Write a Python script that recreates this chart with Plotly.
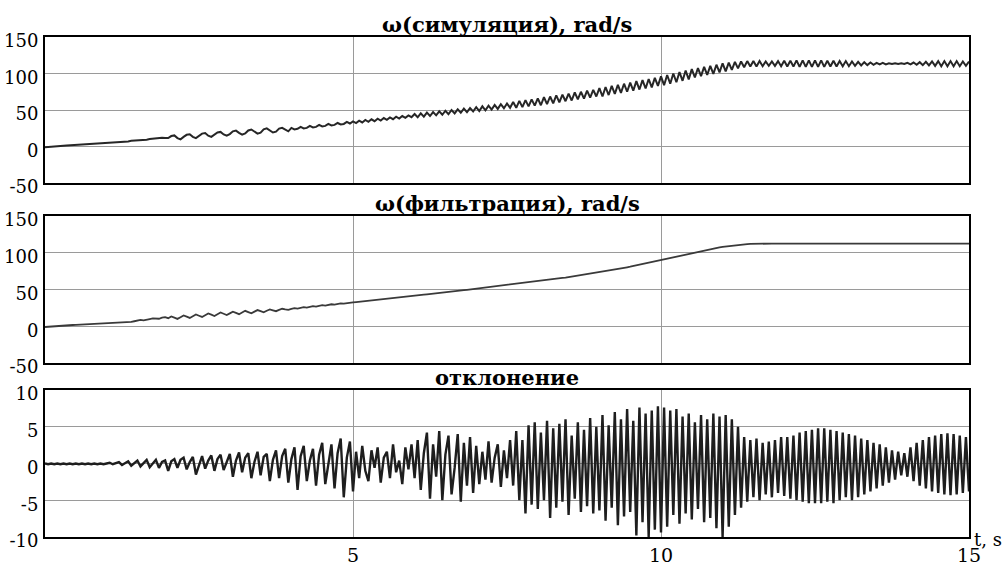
import plotly.graph_objects as go
from plotly.subplots import make_subplots

# ---------------- data ----------------
T_STEP = 0.05  # s between samples, starting at t = 0

OMEGA_SIM = [
    -1.0,-0.5,0.0,0.3,0.6,0.8,1.0,1.2,1.5,1.7,2.0,2.2,2.4,2.6,2.8,3.0,3.2,3.4,3.6,3.8,
    4.0,4.6,5.0,5.2,5.8,6.4,6.6,7.0,7.8,8.0,8.2,9.0,9.4,9.4,10.2,10.8,10.6,11.2,12.0,11.6,
    11.5,14.3,15.2,11.5,9.8,13.2,16.0,16.8,13.2,11.5,14.8,17.7,18.5,14.8,13.2,16.5,19.3,20.0,16.5,14.8,
    17.0,20.8,21.8,18.6,16.2,17.8,22.0,23.3,20.1,17.6,19.0,23.5,24.8,21.6,19.2,20.4,24.5,25.6,22.8,20.8,
    25.5,23.4,24.2,26.8,24.8,25.5,28.2,26.1,26.9,29.5,27.5,28.2,30.9,28.8,29.6,32.2,30.2,30.9,33.6,31.5,
    34.5,32.0,35.4,32.9,36.3,33.8,37.2,34.7,38.1,35.6,39.0,36.5,39.9,37.4,40.8,38.3,41.7,39.2,42.6,40.1,
    44.5,40.0,45.4,40.8,46.4,41.8,47.2,42.7,48.2,43.5,49.0,44.4,50.0,45.3,50.9,46.2,51.8,47.1,52.7,48.0,
    54.0,48.5,55.0,49.5,56.0,50.5,57.0,51.5,58.0,52.5,59.0,53.0,61.0,53.0,62.5,54.0,63.5,55.0,64.5,56.0,
    66.0,56.5,67.5,58.0,68.5,59.0,70.0,60.5,71.0,62.0,72.5,63.0,74.0,64.5,75.0,65.5,76.5,67.0,77.5,68.5,
    80.0,68.5,81.5,70.5,83.0,72.0,84.5,73.5,86.0,75.0,87.5,76.5,89.5,78.0,91.0,79.5,92.5,81.0,94.0,83.0,
    96.0,84.0,98.0,86.0,100.0,88.0,102.0,90.0,104.0,92.0,106.0,94.5,107.5,96.5,109.0,98.0,110.5,99.5,112.0,101.5,
    114.0,103.0,115.0,105.0,116.0,107.0,116.5,108.5,117.0,109.5,117.0,109.5,117.0,110.0,116.5,110.5,116.5,110.5,117.0,110.0,
    117.5,109.5,117.5,109.5,118.0,109.0,118.0,109.0,118.0,109.0,118.0,109.0,118.0,109.0,117.5,109.5,117.5,109.5,117.0,110.0,
    117.0,110.0,116.5,110.5,116.0,111.0,115.5,111.5,115.0,112.0,114.5,112.5,114.5,112.5,114.0,113.0,114.0,113.0,114.0,113.0,
    114.5,112.5,115.0,112.0,115.5,111.5,116.0,111.0,116.5,110.5,117.0,110.0,117.0,110.0,117.0,110.0,117.0,110.0,116.5,110.5,
    116.5,
]

OMEGA_FILT = [
    -1.0,-0.6,-0.2,0.2,0.5,0.8,1.0,1.2,1.5,1.7,2.0,2.2,2.4,2.6,2.8,3.0,3.1,3.2,3.3,3.4,
    3.5,3.7,4.0,4.3,4.6,5.0,5.4,5.7,6.0,6.8,8.2,8.6,8.0,8.4,9.8,10.6,10.0,10.2,11.6,12.4,
    11.0,13.3,11.7,10.0,12.3,14.6,13.0,11.3,13.6,16.0,14.3,12.7,15.0,17.3,15.7,14.0,16.4,18.7,17.0,15.3,
    17.5,19.8,18.1,16.4,18.7,21.0,19.3,17.6,19.9,22.0,20.5,19.0,21.1,23.0,21.7,20.5,22.3,23.8,22.9,22.2,
    23.5,24.6,24.0,24.9,25.9,25.4,26.2,27.3,26.6,27.6,28.6,28.0,28.9,29.9,29.4,30.3,31.2,30.8,31.6,32.4,
    32.5,32.9,33.3,33.8,34.2,34.6,35.0,35.5,35.9,36.3,36.8,37.2,37.7,38.1,38.6,39.1,39.6,40.0,40.5,41.0,
    41.5,42.0,42.4,42.9,43.4,43.8,44.3,44.8,45.3,45.8,46.3,46.7,47.2,47.7,48.2,48.7,49.1,49.6,50.1,50.6,
    51.0,51.5,52.0,52.5,53.0,53.5,54.0,54.5,55.0,55.5,56.0,56.5,57.0,57.5,58.0,58.5,59.0,59.5,60.0,60.5,
    61.0,61.5,62.1,62.7,63.3,63.9,64.5,65.1,65.7,66.3,67.0,67.6,68.2,68.8,69.4,70.0,70.6,71.2,71.8,72.4,
    73.0,73.7,74.5,75.2,76.0,76.8,77.6,78.4,79.3,80.2,81.0,81.9,82.8,83.7,84.6,85.5,86.4,87.3,88.2,89.1,
    90.0,91.0,92.0,93.0,94.0,95.0,96.0,97.0,98.0,99.0,100.0,100.9,101.8,102.7,103.6,104.4,105.2,106.0,106.7,107.3,
    107.9,108.5,109.1,109.6,110.1,110.6,111.0,111.4,111.7,112.0,112.2,112.3,112.4,112.5,112.5,112.5,112.5,112.5,112.5,112.5,
    112.5,112.5,112.5,112.5,112.5,112.5,112.5,112.5,112.8,112.2,112.8,112.2,112.8,112.2,112.8,112.2,112.5,112.5,112.5,112.5,
    112.5,112.5,112.5,112.5,112.5,112.5,112.5,112.5,112.5,112.5,112.5,112.5,112.5,112.5,112.5,112.5,112.5,112.5,112.5,112.5,
    112.5,112.5,112.5,112.5,112.5,112.5,112.5,112.5,112.5,112.5,112.5,112.5,112.5,112.5,112.5,112.5,112.5,112.5,112.5,112.5,
    112.5,
]

DEVIATION = [
    0.0,-0.1,0.0,-0.1,0.0,-0.1,0.0,-0.1,0.0,-0.1,0.0,-0.1,0.0,-0.1,0.0,-0.1,0.0,-0.1,0.0,-0.1,
    0.0,0.1,-0.1,0.0,0.2,-0.2,0.1,0.3,-0.3,0.0,0.4,-0.4,0.1,0.5,-0.5,0.0,0.5,-0.6,0.2,0.4,
    -1.0,0.3,0.6,-0.6,0.5,0.8,-0.8,0.2,0.9,-1.5,-0.3,1.0,-0.7,0.4,1.1,-1.0,0.6,1.2,-0.9,0.2,
    1.3,-1.8,0.4,1.5,-1.2,0.8,1.4,-2.0,0.2,1.6,-1.6,0.9,1.3,-2.4,0.5,1.8,-2.0,1.0,2.0,-2.6,
    0.6,2.2,-3.6,1.0,2.4,-2.4,0.4,2.0,-3.0,1.2,2.8,-2.8,0.2,2.6,-3.4,1.4,3.4,-4.6,0.8,3.0,
    -3.8,1.6,-2.0,2.4,-1.0,-2.4,1.8,-0.6,2.2,-2.6,0.8,1.6,-2.0,2.6,-1.2,0.4,-2.8,2.2,-0.8,2.6,
    -2.0,3.2,-3.6,1.4,4.2,-4.8,2.6,-1.8,4.4,-5.0,1.2,3.8,-4.2,-0.6,4.0,-5.2,2.8,-3.0,3.6,-4.0,
    2.4,-2.8,1.6,-2.2,3.0,-2.6,0.8,2.6,-3.2,1.8,-2.0,3.2,-3.0,4.4,-5.0,3.2,-6.8,5.2,-5.6,5.6,
    -6.2,4.2,-5.0,5.8,-7.4,4.8,-6.0,5.4,-5.2,6.0,-7.0,3.8,-4.8,5.6,-6.6,4.6,-5.8,6.2,-6.8,5.0,
    -6.4,6.6,-7.8,5.2,-6.0,7.0,-8.4,6.0,-7.2,7.4,-6.6,5.8,-9.8,7.6,-8.0,6.8,-10.0,7.2,-9.0,7.8,
    -9.4,7.6,-8.6,7.2,-7.0,7.4,-8.2,6.4,-6.8,6.8,-7.6,5.6,-6.2,6.6,-8.0,6.0,-7.4,6.8,-8.8,6.4,
    -10.0,6.6,-8.6,6.0,-7.0,5.0,-6.0,3.6,-5.2,3.2,-4.6,3.4,-5.0,2.8,-4.2,3.0,-4.6,3.2,-4.0,3.6,
    -4.4,3.6,-4.8,3.8,-5.0,4.2,-5.2,4.4,-5.4,4.6,-5.4,4.8,-5.4,4.8,-5.2,4.6,-5.4,4.4,-5.0,4.2,
    -4.6,4.0,-5.0,3.8,-4.6,3.4,-4.2,3.2,-3.8,2.8,-3.4,2.6,-3.0,2.2,-2.6,1.8,-2.2,1.6,-1.6,1.4,
    -1.8,2.2,-2.4,2.8,-3.0,3.2,-3.4,3.6,-3.8,3.8,-4.0,4.0,-4.2,4.1,-4.3,4.0,-4.2,3.8,-4.0,3.6,
    -3.8,
]

TITLES = ["ω(симуляция), rad/s", "ω(фильтрация), rad/s", "отклонение"]
OMEGA_TICKS = [-50, 0, 50, 100, 150]
OMEGA_TICK_TEXT = ["-50", "0", "50", "100", "150"]
DEV_TICKS = [-10, -5, 0, 5, 10]
DEV_TICK_TEXT = ["-10", "-5", "0", "5", "10"]
TIME_TICKS = [5, 10, 15]
TIME_TICK_TEXT = ["5", "10", "15"]
X_LABEL = "t, s"

assert len(OMEGA_SIM) == 301, len(OMEGA_SIM)
assert len(OMEGA_FILT) == 301, len(OMEGA_FILT)
assert len(DEVIATION) == 301, len(DEVIATION)


def times(vals):
    return [round(i * T_STEP, 2) for i in range(len(vals))]


# ---------------- figure ----------------
FONT = "DejaVu Serif"
fig = make_subplots(rows=3, cols=1)

fig.add_trace(go.Scatter(x=times(OMEGA_SIM), y=OMEGA_SIM, mode="lines",
                         line=dict(color="#262626", width=2.0)), row=1, col=1)
fig.add_trace(go.Scatter(x=times(OMEGA_FILT), y=OMEGA_FILT, mode="lines",
                         line=dict(color="#3a3a3a", width=1.8)), row=2, col=1)
fig.add_trace(go.Scatter(x=times(DEVIATION), y=DEVIATION, mode="lines",
                         line=dict(color="#1e1e1e", width=2.4)), row=3, col=1)

domains = [[0.708, 1.0], [0.348, 0.642], [0.0, 0.294]]
yranges = [[-50, 150], [-50, 150], [-10, 10]]
yticks = [OMEGA_TICKS, OMEGA_TICKS, DEV_TICKS]
ytexts = [OMEGA_TICK_TEXT, OMEGA_TICK_TEXT, DEV_TICK_TEXT]

for i in range(3):
    sx = "" if i == 0 else str(i + 1)
    fig.layout["xaxis" + sx].update(
        range=[0, 15], tickvals=TIME_TICKS, ticktext=TIME_TICK_TEXT,
        showticklabels=(i == 2), automargin=False,
        showgrid=True, gridcolor="#9a9a9a", gridwidth=1, zeroline=False,
        showline=True, linecolor="black", linewidth=2, mirror=True, ticks="",
        tickfont=dict(family=FONT, size=19, color="black"),
    )
    fig.layout["yaxis" + sx].update(
        domain=domains[i], range=yranges[i], tickvals=yticks[i], ticktext=ytexts[i],
        automargin=False,
        showgrid=True, gridcolor="#9a9a9a", gridwidth=1, zeroline=False,
        showline=True, linecolor="black", linewidth=2, mirror=True, ticks="",
        tickfont=dict(family=FONT, size=18, color="black"),
        ticklabelshift=4, ticklabelstandoff=1,
    )
    fig.add_annotation(text="<b>" + TITLES[i] + "</b>", xref="paper", yref="paper",
                       x=0.5, y=domains[i][1], xanchor="center", yanchor="bottom",
                       showarrow=False, yshift=-2,
                       font=dict(family=FONT, size=21, color="black"))

fig.add_annotation(text=X_LABEL, xref="paper", yref="paper", x=1.0206, y=-0.004,
                   xanchor="center", yanchor="middle", showarrow=False,
                   font=dict(family=FONT, size=18, color="black"))

fig.update_layout(width=1006, height=570, margin=dict(l=45, r=37, t=37, b=33),
                  plot_bgcolor="white", paper_bgcolor="white", showlegend=False,
                  font=dict(family=FONT, size=18, color="black"))

fig.write_html("out.html", config={"displayModeBar": False},
               post_script="document.body.style.margin='0';document.body.style.padding='0';")
